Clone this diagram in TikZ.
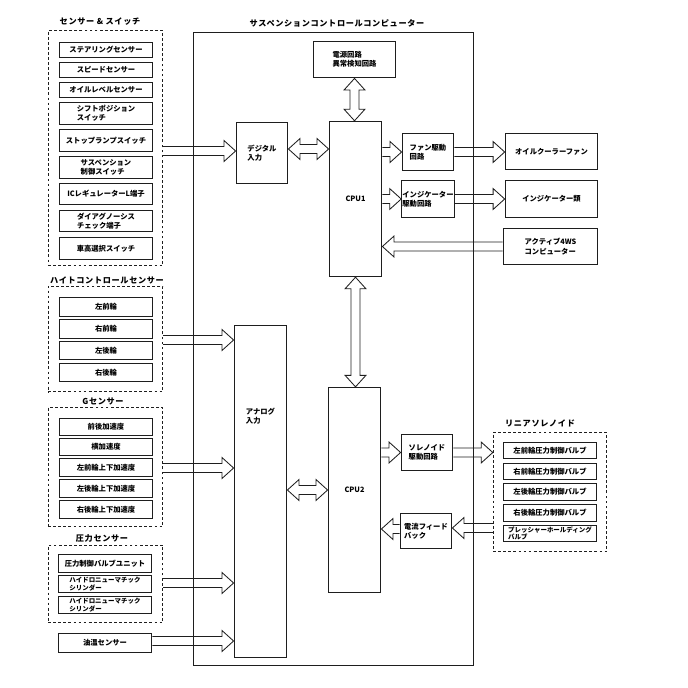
\documentclass[tikz,border=0pt]{standalone}
\usepackage{fontspec}
\usepackage{tikz}
\usetikzlibrary{calc}
\newfontfamily\jpfont{Noto Sans CJK JP}
\newfontfamily\jpwide[LetterSpace=8]{Noto Sans CJK JP}
\definecolor{ink}{RGB}{30,30,30}
\newcommand\pxu{0.7087pt}
\newcommand\arrbody{3.2pt}
\newcommand\arrhead{7.4pt}
\newcommand\arrlen{8.2pt}
\tikzset{
	every node/.style={font=\jpfont\bfseries\fontsize{5.2}{6.6}\selectfont},
	box/.style={draw=ink,line width=0.7pt,align=left,inner sep=0.5pt},
	grp/.style={draw=ink,line width=0.6pt,dash pattern=on 2pt off 1.6pt},
	ttl/.style={font=\jpwide\bfseries\fontsize{5.8}{7}\selectfont},
	arr/.style={draw=ink,line width=0.6pt},
	blk/.style={to path={let \p1=(\tikztostart), \p2=(\tikztotarget) in
		($(\p1)!\arrbody!90:(\p2)$) -- ($(\p2)!\arrlen!(\p1)!\arrbody!-90:(\p1)$)
		-- ($(\p2)!\arrlen!(\p1)!\arrhead!-90:(\p1)$) -- (\p2)
		-- ($(\p2)!\arrlen!(\p1)!\arrhead!90:(\p1)$) -- ($(\p2)!\arrlen!(\p1)!\arrbody!90:(\p1)$)
		-- ($(\p1)!\arrbody!-90:(\p2)$)}},
	dblk/.style={to path={let \p1=(\tikztostart), \p2=(\tikztotarget) in
		(\p1) -- ($(\p1)!\arrlen!(\p2)!\arrhead!90:(\p2)$) -- ($(\p1)!\arrlen!(\p2)!\arrbody!90:(\p2)$)
		-- ($(\p2)!\arrlen!(\p1)!\arrbody!-90:(\p1)$) -- ($(\p2)!\arrlen!(\p1)!\arrhead!-90:(\p1)$)
		-- (\p2) -- ($(\p2)!\arrlen!(\p1)!\arrhead!90:(\p1)$) -- ($(\p2)!\arrlen!(\p1)!\arrbody!90:(\p1)$)
		-- ($(\p1)!\arrlen!(\p2)!\arrbody!-90:(\p2)$) -- ($(\p1)!\arrlen!(\p2)!\arrhead!-90:(\p2)$) -- cycle}},
	small/.style={font=\jpfont\bfseries\fontsize{4.6}{5.4}\selectfont},
}

\begin{document}
\begin{tikzpicture}[x=0.025cm,y=-0.025cm]
	\useasboundingbox (0,0) rectangle (688,688);

	% computer
	\node[box,minimum width=281*\pxu,minimum height=636*\pxu] (ecu) at (333.5,349) {};
	\node[ttl] (ecut) at (337,23) {サスペンションコントロールコンピューター};
	\node[box,minimum width=83*\pxu,minimum height=37*\pxu] (pwr) at (354.5,59.5) {電源回路\\異常検知回路};
	\node[box,minimum width=52*\pxu,minimum height=62*\pxu] (dig) at (262,153) {デジタル\\入力};
	\node[box,minimum width=53*\pxu,minimum height=156*\pxu] (cpu1) at (355.5,199) {CPU1};
	\node[box,minimum width=53*\pxu,minimum height=206*\pxu] (cpu2) at (354.5,490) {CPU2};
	\node[box,minimum width=53*\pxu,minimum height=333*\pxu] (ana) at (260.5,491.5) {};
	\node[align=left] (anat) at (260.5,416) {アナログ\\入力};
	\node[box,minimum width=52*\pxu,minimum height=38*\pxu] (fan) at (428,152) {ファン駆動\\回路};
	\node[box,minimum width=52*\pxu,minimum height=38*\pxu] (ind) at (428,199) {インジケーター\\駆動回路};
	\node[box,minimum width=52*\pxu,minimum height=37*\pxu] (sol) at (427,452.5) {ソレノイド\\駆動回路};
	\node[box,minimum width=52*\pxu,minimum height=36*\pxu] (fb) at (426,531) {電流フィード\\バック};

	% outside, right
	\node[box,minimum width=93*\pxu,minimum height=37*\pxu] (oil) at (551.5,151.5) {オイルクーラーファン};
	\node[box,minimum width=93*\pxu,minimum height=38*\pxu] (lamp) at (551.5,199) {インジケーター類};
	\node[box,minimum width=95*\pxu,minimum height=37*\pxu] (aws) at (550.5,246.5) {アクティブ4WS\\コンピューター};
	\node[grp,minimum width=114*\pxu,minimum height=120*\pxu] (lsgrp) at (550,492) {};
	\node[ttl] (lst) at (540,423) {リニアソレノイド};
	\foreach \y/\t [count=\i] in {450.5/左前輪圧力制御バルブ,471.5/右前輪圧力制御バルブ,492/左後輪圧力制御バルブ,513/右後輪圧力制御バルブ}
		\node[box,minimum width=94*\pxu,minimum height=17*\pxu] (ls\i) at (550,\y) {\t};
	\node[box,small,minimum width=94*\pxu,minimum height=17*\pxu] (ls5) at (550,533.5) {プレッシャーホールディング\\バルブ};

	% outside, left
	\node[grp,minimum width=115*\pxu,minimum height=236*\pxu] (swgrp) at (105.5,148) {};
	\node[ttl] (swt) at (100,22) {センサー\ \&\ スイッチ};
	\foreach \y/\h/\t [count=\i] in {50/16/ステアリングセンサー,70/16/スピードセンサー,90/16/オイルレベルセンサー,
		113.5/23/{シフトポジション\\スイッチ},140.5/23/ストップランプスイッチ,167.5/23/{サスペンション\\制御スイッチ},
		194/22/ICレギュレーターL端子,221/22/{ダイアグノーシス\\チェック端子},248.5/23/車高選択スイッチ}
		\node[box,minimum width=94*\pxu,minimum height=\h*\pxu] (sw\i) at (106,\y) {\t};

	\node[grp,minimum width=115*\pxu,minimum height=106*\pxu] (hcgrp) at (105.5,339) {};
	\node[ttl] (hct) at (107,280) {ハイトコントロールセンサー};
	\foreach \y/\t [count=\i] in {307/左前輪,329/右前輪,350.5/左後輪,372.5/右後輪}
		\node[box,minimum width=94*\pxu,minimum height=19*\pxu] (hc\i) at (106,\y) {\t};

	\node[grp,minimum width=115*\pxu,minimum height=120*\pxu] (ggrp) at (105.5,467) {};
	\node[ttl] (gt) at (103,402) {Gセンサー};
	\foreach \y/\t [count=\i] in {427/前後加速度,447/横加速度,467.5/左前輪上下加速度,488.5/左後輪上下加速度,509.5/右後輪上下加速度}
		\node[box,minimum width=94*\pxu,minimum height=18*\pxu] (g\i) at (106,\y) {\t};

	\node[grp,minimum width=115*\pxu,minimum height=78*\pxu] (prgrp) at (105.5,584) {};
	\node[ttl] (prt) at (102,538) {圧力センサー};
	\node[box,minimum width=94*\pxu,minimum height=18*\pxu] (pr1) at (105,563.5) {圧力制御バルブユニット};
	\foreach \y [count=\i from 2] in {584,605}
		\node[box,small,minimum width=94*\pxu,minimum height=18*\pxu] (pr\i) at (105,\y) {ハイドロニューマチック\\シリンダー};
	\node[box,minimum width=94*\pxu,minimum height=20*\pxu] (temp) at (105,643) {油温センサー};

	% block arrows
	\draw[arr] (swgrp.east |- 0,151) to[blk] (dig.west |- 0,151);
	\draw[arr] (dig.east |- 0,149) to[dblk] (cpu1.west |- 0,149);
	\draw[arr] (pwr.south) to[dblk] (pwr.south |- cpu1.north);
	\draw[arr] (cpu1.east |- fan.west) to[blk] (fan.west);
	\draw[arr] (cpu1.east |- ind.west) to[blk] (ind.west);
	\draw[arr] (fan.east) to[blk] (oil.west |- fan.east);
	\draw[arr] (ind.east) to[blk] (lamp.west |- ind.east);
	\draw[arr] (aws.west) to[blk] (cpu1.east |- aws.west);
	\draw[arr] (cpu1.south) to[dblk] (cpu1.south |- cpu2.north);
	\draw[arr] (hcgrp.east |- 0,340) to[blk] (ana.west |- 0,340);
	\draw[arr] (ggrp.east |- 0,468) to[blk] (ana.west |- 0,468);
	\draw[arr] (prgrp.east |- 0,583) to[blk] (ana.west |- 0,583);
	\draw[arr] (temp.east |- 0,641) to[blk] (ana.west |- 0,641);
	\draw[arr] (ana.east |- 0,490) to[dblk] (cpu2.west |- 0,490);
	\draw[arr] (cpu2.east |- sol.west) to[blk] (sol.west);
	\draw[arr] (sol.east) to[blk] (lsgrp.west |- sol.east);
	\draw[arr] (lsgrp.west |- 0,528) to[blk] (fb.east |- 0,528);
	\draw[arr] (fb.west |- 0,529) to[blk] (cpu2.east |- 0,529);
\end{tikzpicture}
\end{document}
